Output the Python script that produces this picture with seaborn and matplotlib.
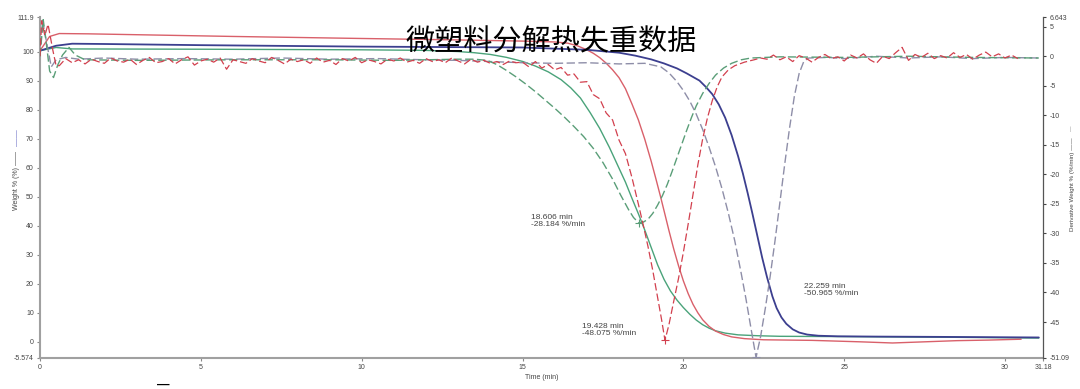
import numpy as np
import matplotlib.pyplot as plt
import seaborn as sns

sns.set_style("ticks")
plt.rcParams['font.family'] = ['Liberation Sans', 'Noto Sans CJK SC', 'DejaVu Sans']

# ---- weight curves (Weight %) ----
t_blue_w = [0, 0.5, 1.0, 2, 5, 10, 15, 17, 18, 18.5, 19, 19.4, 19.8, 20.1, 20.5, 20.7, 20.9, 21.1,
            21.3, 21.5, 21.7, 21.85, 22.0, 22.14, 22.3, 22.45, 22.6, 22.77, 22.9, 23.05, 23.2,
            23.4, 23.6, 23.85, 24.2, 24.8, 26, 28, 31.05]
blue_w = [100.3, 102.0, 102.7, 102.6, 102.2, 101.7, 101.4, 100.6, 99.6, 98.6, 97.3, 95.9, 94.2,
          92.5, 90.0, 87.8, 85.3, 81.8, 77.2, 71.2, 64.0, 58.0, 51.2, 44.5, 36.5, 29.0, 22.3,
          15.6, 11.6, 8.4, 6.2, 4.3, 3.2, 2.5, 2.1, 1.9, 1.8, 1.7, 1.5]

t_red_w = [0, 0.3, 0.6, 1.5, 3, 6, 10, 13, 15, 16, 16.4, 16.7, 17.0, 17.2, 17.4, 17.6, 17.8, 18.0,
           18.2, 18.4, 18.6, 18.8, 19.0, 19.15, 19.3, 19.43, 19.55, 19.7, 19.85, 20.0, 20.15,
           20.3, 20.45, 20.6, 20.8, 21.0, 21.25, 21.5, 21.9, 22.5, 24, 25.5, 26.5, 27.5, 28.5,
           29.5, 30.5]
red_w = [100.3, 105.2, 106.2, 106.1, 105.8, 105.2, 104.5, 104.0, 103.6, 103.3, 102.9, 102.0, 100.6,
         99.4, 97.9, 96.0, 93.7, 91.0, 87.2, 82.0, 76.5, 69.8, 62.2, 56.0, 49.6, 43.8, 38.4, 32.0,
         26.2, 21.0, 16.6, 12.9, 10.0, 7.6, 5.3, 3.7, 2.5, 1.7, 1.1, 0.7, 0.5, 0.0, -0.4, 0.0,
         0.4, 0.6, 0.9]

t_green_w = [0, 0.5, 1, 5, 10, 12, 13, 13.5, 14, 14.5, 15, 15.4, 15.8, 16.2, 16.5, 16.8, 17.1,
             17.4, 17.7, 17.95, 18.2, 18.4, 18.606, 18.8, 19.0, 19.2, 19.4, 19.6, 19.8, 20.0,
             20.2, 20.4, 20.6, 20.8, 21.0, 21.3, 21.7, 22.3, 23, 25, 28, 31.05]
green_w = [100.3, 101.4, 100.9, 100.8, 100.6, 100.4, 100.0, 99.6, 99.0, 98.0, 96.6, 95.0, 93.0,
           90.3, 87.5, 84.0, 79.0, 73.5, 67.0, 61.0, 55.0, 49.5, 44.0, 38.5, 32.5, 26.5, 21.5,
           17.5, 14.4, 11.8, 9.5, 7.5, 5.9, 4.7, 3.8, 3.0, 2.4, 2.1, 1.9, 1.8, 1.6, 1.3]

# ---- derivative curves (%/min) ----
t_blue_d = [0, 0.08, 0.2, 0.35, 0.5, 0.8, 1.2, 2, 3, 4.5, 6, 7.5, 9, 10.5, 12, 13, 14, 15, 16, 17,
            18, 18.8, 19.3, 19.55, 19.8, 20.0, 20.2, 20.4, 20.6, 20.8, 21.0, 21.2, 21.4, 21.6,
            21.8, 21.95, 22.1, 22.259, 22.4, 22.55, 22.7, 22.85, 23.0, 23.15, 23.3, 23.45, 23.6,
            23.75, 23.9, 24.5, 25, 26, 27, 28, 29, 30, 31.05]
blue_d = [0, 6.0, 2.5, -1.8, -0.6, -0.2, -0.5, -0.3, -0.5, -0.4, -0.5, -0.3, -0.5, -0.4, -0.6,
          -0.7, -0.9, -1.1, -1.2, -1.1, -1.3, -1.2, -1.8, -2.8, -4.3, -5.8, -7.6, -9.8, -12.4,
          -15.4, -18.7, -22.4, -26.6, -31.3, -36.8, -41.2, -46.0, -50.965, -47.5, -42.6, -37.2,
          -31.2, -24.8, -18.3, -12.2, -6.8, -2.9, -0.8, -0.3, -0.2, -0.4, 0.0, -0.3, -0.1, -0.4,
          -0.2, -0.3]

t_green_d = [0, 0.1, 0.2, 0.3, 0.42, 0.55, 0.7, 0.9, 1.1, 1.4, 3, 6, 9, 11, 12, 13, 13.5, 13.9,
             14.2, 14.5, 14.8, 15.1, 15.4, 15.7, 16.0, 16.3, 16.6, 16.9, 17.2, 17.5, 17.8, 18.05,
             18.3, 18.45, 18.606, 18.75, 18.9, 19.05, 19.2, 19.35, 19.5, 19.65, 19.8, 19.95, 20.1,
             20.25, 20.4, 20.6, 20.8, 21.0, 21.25, 21.5, 21.8, 22.1, 23, 25, 27, 29, 31.05]
green_d = [0, 6.2, 2.0, -2.5, -3.6, -1.5, 0.2, 1.5, 0.2, -0.6, -0.7, -0.6, -0.6, -0.7, -0.6, -0.5,
           -0.5, -0.7, -1.4, -2.4, -3.5, -4.7, -6.0, -7.4, -8.8, -10.3, -11.9, -13.6, -15.6,
           -18.0, -20.8, -23.5, -26.0, -27.3, -28.184, -28.1, -27.6, -26.6, -25.2, -23.6, -21.7,
           -19.5, -17.2, -14.9, -12.6, -10.4, -8.4, -6.3, -4.6, -3.2, -2.0, -1.2, -0.6, -0.3,
           -0.1, -0.2, 0, -0.2, -0.3]

t_red_d_start = [0, 0.05, 0.15, 0.25, 0.4, 0.5]
red_d_start = [0, 6.0, 3.5, 5.4, 1.0, -1.6]

# noisy baseline, sampled every 0.2 min from 0.6 min
red_d_base = [-1.6, -0.4, -1.1, -0.6, -1.3, -0.5, -0.9, -1.2, -0.3, -0.8, -1.0, -0.5,
              -1.4, -0.7, -0.2, -1.1, -0.9, -0.4, -1.3, -0.6, -0.1, -1.5, -0.8, -0.5,
              -1.0, -0.3, -2.2, -0.6, -0.9, -1.2, -0.4, -0.8, -1.1, -0.2, -0.7, -1.3,
              -0.5, -0.9, -0.6, -1.2, -0.3, -1.0, -0.7, -1.4, -0.4, -0.8, -0.2, -1.1,
              -0.6, -0.9, -1.3, -0.5, -0.8, -0.3, -1.0, -0.7, -1.2, -0.4, -0.9, -0.6,
              -1.1, -0.3, -0.8, -1.3, -0.5, -1.0, -0.7, -1.2, -0.9, -1.4, -0.8, -1.1]

t_red_d_dip = [15.0, 15.2, 15.4, 15.6, 15.8, 16.0, 16.2, 16.4, 16.6, 16.8, 17.0, 17.2, 17.4, 17.6,
               17.8, 18.0, 18.2, 18.4, 18.6, 18.75, 18.9, 19.05, 19.2, 19.32, 19.428, 19.55, 19.7,
               19.85, 20.0, 20.15, 20.3, 20.45, 20.6, 20.75, 20.9, 21.05, 21.2, 21.4, 21.6, 21.9,
               22.2, 22.4]
red_d_dip = [-1.0, -1.8, -0.9, -2.0, -1.4, -2.3, -1.9, -3.2, -3.0, -4.4, -4.3, -6.5, -7.2, -9.6,
             -10.8, -14.2, -16.5, -20.5, -25.0, -28.5, -32.2, -36.3, -40.8, -44.5, -48.075, -45.5,
             -41.5, -37.6, -33.2, -28.4, -23.4, -18.4, -14.0, -10.4, -7.5, -5.2, -3.5, -2.3,
             -1.6, -1.0, -0.6, -0.3]

# noisy tail, sampled every 0.2 min from 22.6 min
red_d_tail = [-0.5, 0.2, -0.6, -0.1, -0.9, 0.1, -0.3, -1.0, -0.2, 0.3,
              -0.4, -0.1, -0.8, 0.2, -0.3, 0.4, -0.6, -1.2, 0.0, -0.4,
              0.6, 1.5, -0.7, 0.3, -0.2, 0.5, -0.4, 0.1, -0.3, 0.6,
              -0.2, 0.3, -0.5, 0.2, 0.7, -0.1, 0.4, -0.3, 0.2, -0.4]

t_red_d = (t_red_d_start + list(0.6 + 0.2 * np.arange(len(red_d_base))) + t_red_d_dip
           + list(22.6 + 0.2 * np.arange(len(red_d_tail))))
red_d = red_d_start + red_d_base + red_d_dip + red_d_tail

peak_t = [18.606, 19.428, 22.259]
peak_d = [-28.184, -48.075, -50.965]
peak_text = ["18.606 min\n-28.184 %/min", "19.428 min\n-48.075 %/min", "22.259 min\n-50.965 %/min"]
text_t = [15.25, 16.86, 23.76]
text_d = [-27.9, -46.3, -39.6]

x_ticks = [0, 5, 10, 15, 20, 25, 30, 31.18]
y_ticks = [-5.574, 0, 10, 20, 30, 40, 50, 60, 70, 80, 90, 100, 111.9]
y2_ticks = [-51.09, -45, -40, -35, -30, -25, -20, -15, -10, -5, 0, 5, 6.643]

c_blue, c_red, c_green = '#3c3f8f', '#d9606a', '#4aa37a'
c_blue_d, c_red_d, c_green_d = '#8e8ea8', '#d2404e', '#5a9e78'

fig = plt.figure(figsize=(10.8, 3.89), dpi=100)
ax = fig.add_axes([40 / 1080, 31 / 389, 1003 / 1080, 341 / 389])
ax2 = ax.twinx()

sns.lineplot(x=t_green_w, y=green_w, ax=ax, color=c_green, lw=1.0, estimator=None, sort=False)
sns.lineplot(x=t_red_w, y=red_w, ax=ax, color=c_red, lw=1.0, estimator=None, sort=False)
sns.lineplot(x=t_blue_w, y=blue_w, ax=ax, color=c_blue, lw=1.3, estimator=None, sort=False)

dash = (0, (6, 2.5))
sns.lineplot(x=t_blue_d, y=blue_d, ax=ax2, color=c_blue_d, lw=1.0, linestyle=dash,
             estimator=None, sort=False)
sns.lineplot(x=t_green_d, y=green_d, ax=ax2, color=c_green_d, lw=1.0, linestyle=dash,
             estimator=None, sort=False)
sns.lineplot(x=t_red_d, y=red_d, ax=ax2, color=c_red_d, lw=0.9, linestyle=dash,
             estimator=None, sort=False)
sns.scatterplot(x=peak_t, y=peak_d, ax=ax2, marker='+', s=30, linewidth=0.8,
                color=[c_green_d, c_red_d, c_blue_d])

for tx, ty, s in zip(text_t, text_d, peak_text):
    ax2.text(tx, ty, s, fontsize=6, color='#444444', va='center', ha='left', linespacing=1.0)

ax.set_xlim(0, 31.18)
ax.set_ylim(-5.574, 111.9)
ax2.set_ylim(-51.09, 6.643)

ax.set_xticks(x_ticks, [f"{v:g}" for v in x_ticks])
ax.set_yticks(y_ticks, [f"{v:g}" for v in y_ticks])
ax2.set_yticks(y2_ticks, [f"{v:g}" for v in y2_ticks])

ax.tick_params(axis='both', labelsize=5, length=2.5, width=0.8, color='#888888',
               labelcolor='#444444', pad=2)
ax2.tick_params(axis='y', labelsize=5, length=2.5, width=0.8, color='#444444',
                labelcolor='#444444', pad=2)

for side in ['top', 'right']:
    ax.spines[side].set_visible(False)
for side in ['top', 'left', 'bottom']:
    ax2.spines[side].set_visible(False)
ax.spines['left'].set_color('#a0a0a0')
ax.spines['left'].set_linewidth(1.5)
ax.spines['bottom'].set_color('#a0a0a0')
ax.spines['bottom'].set_linewidth(1.5)
ax2.spines['right'].set_color('#555555')
ax2.spines['right'].set_linewidth(0.9)

ax.set_xlabel("Time (min)", fontsize=5, color='#444444', labelpad=2)
ax.set_ylabel("Weight % (%) ——", fontsize=5, color='#444444')
ax.yaxis.set_label_coords(-0.02, 0.52)
ax2.set_ylabel("Derivative Weight % (%/min) ——", fontsize=4.5, color='#444444', rotation=90)
ax2.yaxis.set_label_coords(1.027, 0.51)

fig.text(18 / 1080, 1 - 138 / 389, "——", rotation=90, fontsize=6, color='#5a5fc0',
         ha='center', va='center')
fig.text(1072 / 1080, 1 - 128 / 389, "—", rotation=90, fontsize=4, color='#888888',
         ha='center', va='center')

fig.text(551 / 1080, 1 - 42 / 389, "微塑料分解热失重数据", fontsize=21, color='black',
         family=['Noto Sans CJK SC'], ha='center', va='center')
fig.text(163 / 1080, -0.004, "—", fontsize=9, fontweight='bold', color='black',
         ha='center', va='bottom')

fig.savefig("out.png", dpi=100)
